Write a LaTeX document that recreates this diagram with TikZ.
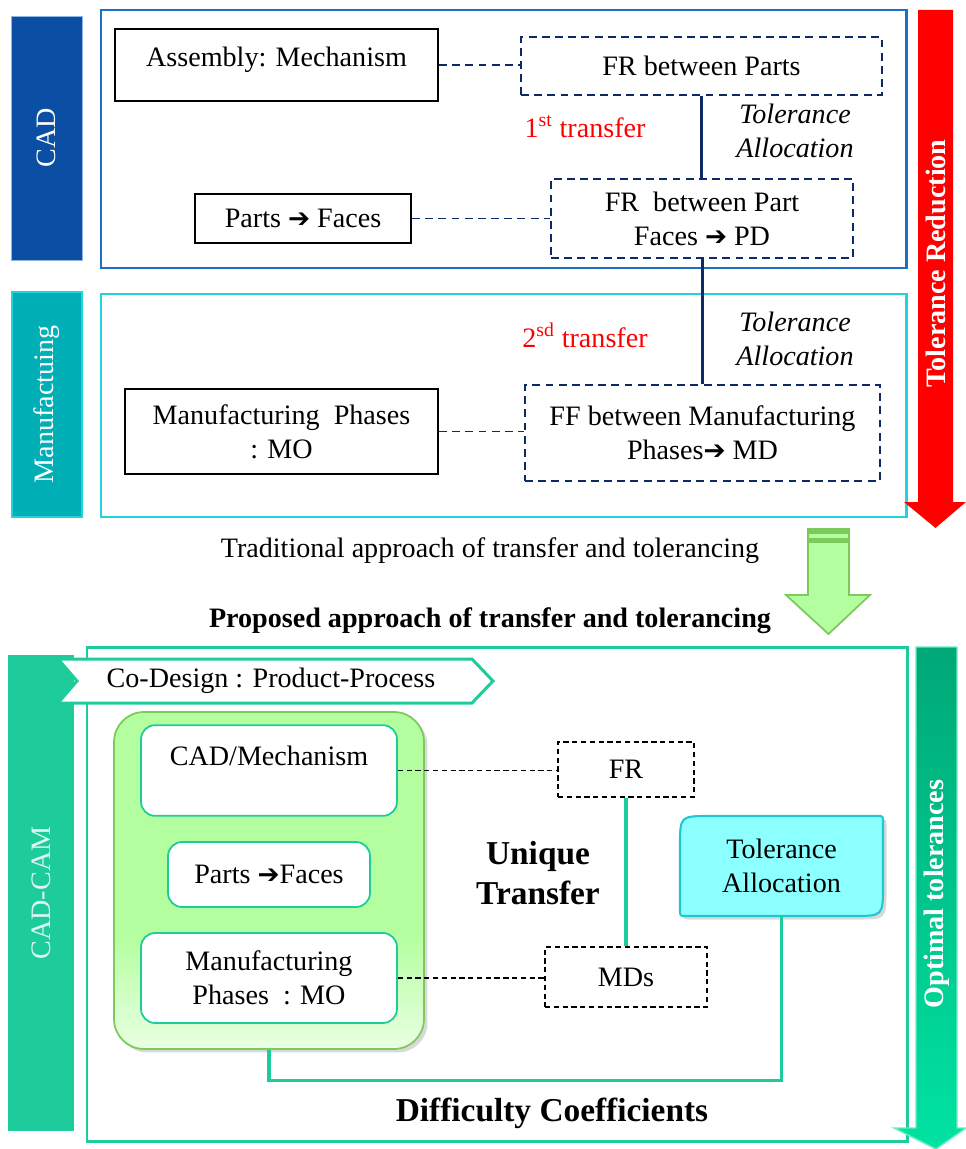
\documentclass[tikz,border=0pt]{standalone}
\usepackage{fontspec}
\setmainfont{Liberation Serif}
\newfontfamily\arrowfont{DejaVu Sans}
\usetikzlibrary{shadows}
\definecolor{cadblue}{HTML}{0A4FA3}
\definecolor{cadline}{HTML}{1F6EC6}
\definecolor{manteal}{HTML}{00AFB5}
\definecolor{manline}{HTML}{22D3DD}
\definecolor{navy}{HTML}{0B2A66}
\definecolor{camteal}{HTML}{1ECC9B}
\definecolor{lightgreen}{HTML}{B3FF9F}
\definecolor{palegreen}{HTML}{EAFFE3}
\definecolor{greenline}{HTML}{7CC95C}
\definecolor{optdark}{HTML}{00A877}
\definecolor{optlight}{HTML}{00E3A2}
\definecolor{cyanfill}{HTML}{8CFFFF}
\definecolor{cyanline}{HTML}{1FC8D0}
\pgfdeclareverticalshading{contshade}{100bp}{color(0bp)=(palegreen); color(25bp)=(palegreen); color(42bp)=(lightgreen); color(100bp)=(lightgreen)}
\newcommand{\toarr}{{\arrowfont\fontsize{15}{15}\selectfont ➔}}
\tikzset{
every node/.style={font=\fontsize{16}{19.3}\selectfont, align=center}, % text size of the sketch
box/.style={draw, line width=1.2pt, inner sep=0pt}, % solid boxes
dbox/.style={draw=navy, line width=1.1pt, dash pattern=on 4.5pt off 3pt, inner sep=0pt}, % dashed boxes, traditional approach
kbox/.style={draw, line width=0.8pt, dash pattern=on 3pt off 2pt, inner sep=0pt}, % dashed boxes, proposed approach
rbox/.style={draw=camteal, fill=white, line width=1pt, rounded corners=8pt, inner sep=0pt}, % boxes in the green block
link/.style={draw=navy, line width=1.1pt, dash pattern=on 4.5pt off 3pt}, % dashed links on top
klink/.style={draw, line width=0.8pt, dash pattern=on 3pt off 2pt}, % dashed links below
bar/.style={rotate=90, text=white, inner sep=0pt}, % vertical labels
head/.style={font=\fontsize{19}{23}\selectfont\bfseries}, % big bold titles
tline/.style={draw=camteal, line width=1.9pt}, % teal connectors
}

\begin{document}
\begin{tikzpicture}[x=0.02cm, y=-0.02cm]
\useasboundingbox (0,0) rectangle (966,1149);

% traditional approach
\node[bar, fill=cadblue, draw=cadline!50, minimum width=4.88cm, minimum height=1.42cm] (cad) at (46.5,138) {CAD};
\node[bar, fill=manteal, draw=manline, line width=1pt, minimum width=4.5cm, minimum height=1.4cm] (man) at (47,404.5) {Manufactuing};
\draw[cadline, line width=1.7pt] (101,10) rectangle (906,268);
\draw[manline, line width=1.7pt] (101,294) rectangle (906,517);

\fill[red] (918,10) -- (953,10) -- (953,502) -- (966,502) -- (935.5,528) -- (904,502) -- (918,502) -- cycle;
\node[bar, font=\fontsize{16}{19}\selectfont\bfseries] (tred) at (935.5,263.5) {Tolerance Reduction};

\node[box, minimum width=6.46cm, text height=21pt, text depth=19.8pt] (asm) at (276.5,65) {Assembly: Mechanism};
\node[dbox, minimum width=7.22cm, minimum height=1.16cm] (frp) at (701.5,66) {FR between Parts};
\node[box, minimum width=4.32cm, minimum height=0.98cm] (pf) at (303,218.5) {Parts \toarr\ Faces};
\node[dbox, minimum width=6.04cm, minimum height=1.58cm] (frpf) at (702,218.5) {FR\ \ between Part\\Faces \toarr\ PD};
\node[box, minimum width=6.26cm, minimum height=1.7cm] (mp) at (281.5,431.5) {Manufacturing\ \ Phases\\: MO};
\node[dbox, minimum width=7.1cm, minimum height=1.92cm] (ffm) at (702.5,433) {FF between Manufacturing\\Phases\toarr\ MD};

\draw[link] (asm.east) -- (asm.east -| frp.west);
\draw[link] (pf.east) -- (pf.east -| frpf.west);
\draw[link] (mp.east) -- (mp.east -| ffm.west);
\draw[navy, line width=1.7pt] (frp.south) -- (frp.south |- frpf.north);
\draw[navy, line width=1.7pt] (frpf.south) -- (frpf.south |- ffm.north);

\node[red] (t1) at (585,127) {1\textsuperscript{st} transfer};
\node[red] (t2) at (585,335) {2\textsuperscript{sd} transfer};
\node[font=\fontsize{16}{19.3}\selectfont\itshape] (ta1) at (795,131) {Tolerance\\Allocation};
\node[font=\fontsize{16}{19.3}\selectfont\itshape] (ta2) at (795,339) {Tolerance\\Allocation};

% passage
\node (trad) at (490,551) {Traditional approach of transfer and tolerancing};
\fill[lightgreen, draw=greenline, line width=1pt] (808,529) -- (849,529) -- (849,595) -- (870,595) -- (828.5,634) -- (786,595) -- (808,595) -- cycle;
\fill[greenline] (808,529) rectangle (849,534);
\fill[greenline] (808,538) rectangle (849,543);
\node[font=\fontsize{16}{19.3}\selectfont\bfseries] (prop) at (490,621) {Proposed approach of transfer and tolerancing};

% proposed approach
\node[bar, fill=camteal, text=white!85!camteal, minimum width=9.52cm, minimum height=1.32cm] (cam) at (41,893) {CAD-CAM};
\draw[camteal, line width=1.7pt] (87,647) rectangle (907,1141);
\shade[top color=optdark, bottom color=optlight, draw=optlight!60!white, line width=0.8pt] (916,647) -- (957,647) -- (957,1128) -- (966,1128) -- (936,1149) -- (894,1128) -- (916,1128) -- cycle;
\node[bar, font=\fontsize{16}{19}\selectfont\bfseries] (topt) at (936.5,894) {Optimal tolerances};

\draw[camteal, fill=white, line width=1.7pt] (58,659) -- (472,659) -- (493,681) -- (472,703) -- (58,703) -- (77,681) -- cycle;
\node (codes) at (271,681) {Co-Design : Product-Process};

\node[draw=greenline, line width=1pt, rounded corners=17pt, shading=contshade, minimum width=6.2cm, minimum height=6.74cm, drop shadow={opacity=0.3, shadow xshift=2pt, shadow yshift=-2pt}] (cont) at (269,880.5) {};
\node[rbox, minimum width=5.12cm, text height=23.2pt, text depth=28.4pt] (cadm) at (269,770.5) {CAD/Mechanism};
\node[rbox, minimum width=4.04cm, minimum height=1.3cm] (pfc) at (269,874.5) {Parts \toarr Faces};
\node[rbox, minimum width=5.12cm, minimum height=1.8cm] (mpc) at (269,978) {Manufacturing\\Phases\ \ : MO};

\node[kbox, minimum width=2.72cm, minimum height=1.1cm] (fr) at (626,769.5) {FR};
\node[kbox, minimum width=3.24cm, minimum height=1.2cm] (mds) at (626,977) {MDs};
\draw[klink] (cadm.east) -- (cadm.east -| fr.west);
\draw[klink] (mpc.east) -- (mpc.east -| mds.west);
\draw[tline, line width=2.3pt] (fr.south) -- (mds.north);
\node[head] (uniq) at (538,873) {Unique\\Transfer};

\path[draw=cyanline, fill=cyanfill, line width=1.2pt, drop shadow={opacity=0.3, shadow xshift=2pt, shadow yshift=-2pt}] (680,846) .. controls (680,816) .. (710,816) -- (877,816) .. controls (883,816) .. (883,822) -- (883,886) .. controls (883,916) .. (853,916) -- (686,916) .. controls (680,916) .. (680,910) -- cycle;
\node[minimum width=4.06cm, minimum height=2cm] (ta) at (781.5,866) {Tolerance\\Allocation};
\draw[tline] (ta.south) -- ++(0,164) -| (cont.south);

\node[head] (diff) at (552,1113) {Difficulty Coefficients};
\end{tikzpicture}
\end{document}
